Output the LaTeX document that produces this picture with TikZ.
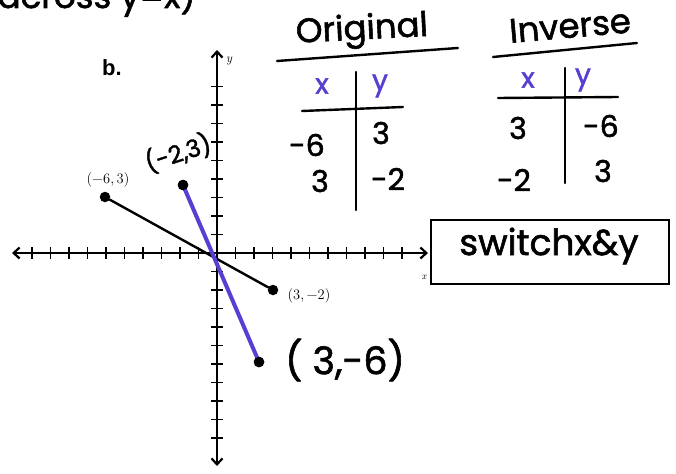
\documentclass[tikz,border=0pt]{standalone}
\usepackage{fontspec}
\newfontfamily\hand[FakeBold=1.6]{Poppins}
\newfontfamily\arialf{Liberation Sans}
\usetikzlibrary{arrows.meta}
\definecolor{penblue}{RGB}{88,62,210}
\begin{document}
\begin{tikzpicture}[x=1pt,y=-1pt,
  hw/.style={font=\hand\fontsize{30}{32}\selectfont, inner sep=0pt},
  hwbig/.style={font=\hand\fontsize{34}{36}\selectfont, inner sep=0pt},
  bluehw/.style={font=\hand\fontsize{28}{30}\selectfont, inner sep=0pt, text=penblue},
  lbl/.style={font=\fontsize{14.5}{16}\selectfont, inner sep=0pt},
  dotn/.style={circle, fill=black, inner sep=0pt, minimum size=10.5pt},
  axis/.style={line width=2.2pt, {Straight Barb[length=6pt,width=11pt]}-{Straight Barb[length=6pt,width=11pt]}},
  tickl/.style={line width=1.8pt},
  pen/.style={line width=2.4pt, line cap=round},
  bluepen/.style={line width=4pt, line cap=round, draw=penblue}]
\useasboundingbox (0,0) rectangle (676,473);
\clip (0,0) rectangle (676,473);
\fill[white] (0,0) rectangle (676,473);

% cropped heading at the top
\node[hwbig, anchor=base east] (head) at (196,8) {across y=x)};

% axes
\coordinate (O) at (217,253);
\coordinate (xl) at (12,253);
\coordinate (xr) at (428,253);
\coordinate (yt) at (217,50);
\coordinate (yb) at (217,466);
\draw[axis] (xl) -- (xr);
\draw[axis] (yb) -- (yt);
\foreach \i in {-10,...,-1,1,2,...,10}
  \draw[tickl] (217+\i*18.5,247) -- (217+\i*18.5,259);
\foreach \j in {-9,...,-1,1,2,...,10}
  \draw[tickl] (211,253+\j*18.5) -- (223,253+\j*18.5);
\node[lbl, font=\itshape\fontsize{13}{14}\selectfont] (ylab) at (229,61) {y};
\node[lbl, font=\itshape\fontsize{10}{11}\selectfont] (xlab) at (424,277) {x};

\node[font=\arialf\bfseries\fontsize{22}{24}\selectfont, inner sep=0pt] (b) at (112,68) {b.};

% points
\node[dotn] (A) at (105,197) {};
\node[dotn] (B) at (273,290) {};
\node[dotn] (C) at (183,185) {};
\node[dotn] (D) at (259,362) {};
\draw[pen] (A) -- (B);
\draw[bluepen] (C.center) -- (D.center);
\node[dotn] at (C) {};
\node[dotn] at (D) {};

\node[lbl] (Al) at (108,180) {(\textminus6,\,3)};
\node[lbl] (Bl) at (309,296) {(3,\,\textminus2)};
\node[font=\hand\fontsize{24}{26}\selectfont, inner sep=0pt, rotate=18] (Cl) at (178,153) {(-2,3)};
\node[font=\hand\fontsize{38}{40}\selectfont, inner sep=0pt] (Dl) at (345,360) {( 3,-6)};

% Original table
\node[hwbig, rotate=3] (orig) at (362,31) {Original};
\draw[pen] (277,61) -- (458,48);
\node[bluehw] (ox) at (322,86) {x};
\node[bluehw] (oy) at (380,86) {y};
\draw[pen] (302,111) -- (403,107);
\draw[pen] (356,72) -- (356,210);
\node[hw] (o11) at (307,145) {-6};
\node[hw] (o12) at (381,133) {3};
\node[hw] (o21) at (320,181) {3};
\node[hw] (o22) at (388,179) {-2};

% Inverse table
\node[hwbig, rotate=5] (inv) at (570,26) {Inverse};
\draw[pen] (493,57) -- (637,43);
\node[bluehw] (ix) at (528,80) {x};
\node[bluehw] (iy) at (583,80) {y};
\draw[pen] (498,98) -- (618,97);
\draw[pen] (565,68) -- (565,183);
\node[hw] (i11) at (518,128) {3};
\node[hw] (i12) at (601,126) {-6};
\node[hw] (i21) at (514,180) {-2};
\node[hw] (i22) at (603,171) {3};

% switch box
\node[draw, line width=2.4pt, minimum width=238pt, minimum height=64pt, inner sep=0pt] (sw) at (550,252) {};
\node[font=\hand\fontsize{36}{38}\selectfont, inner sep=0pt] (swt) at (549,246) {switchx\&y};
\end{tikzpicture}
\end{document}
